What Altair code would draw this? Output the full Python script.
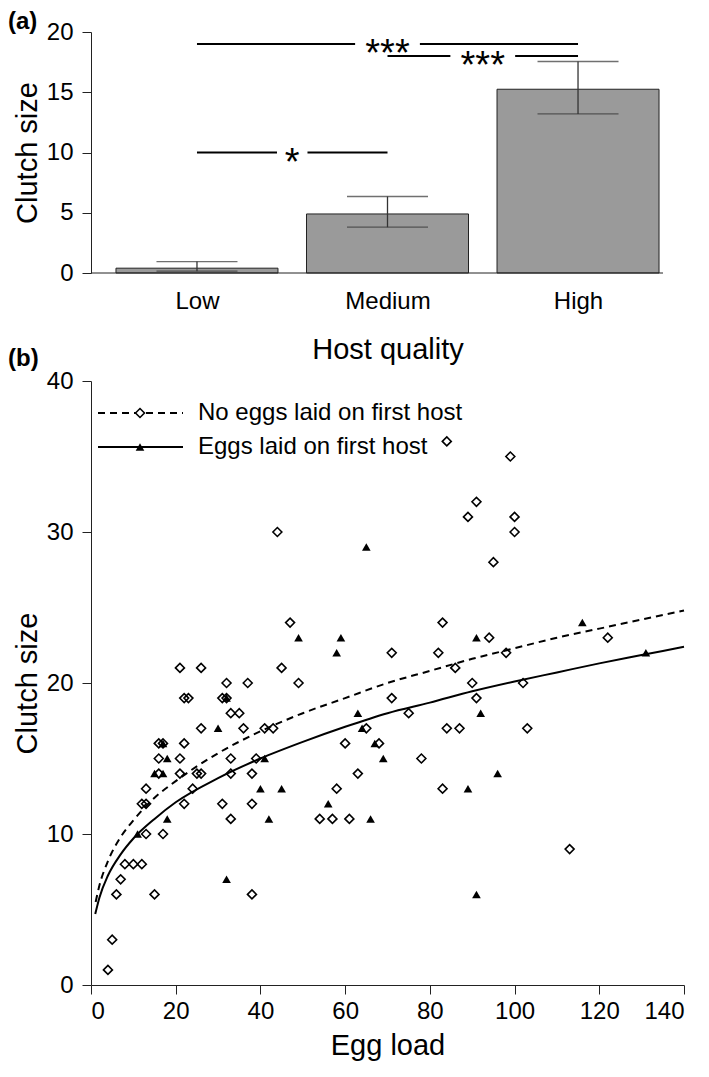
import json
import altair as alt
import pandas as pd

FONT = "Liberation Sans, Arial, Helvetica, sans-serif"

# ---------------- Panel (a) data ----------------
quality = ["Low", "Medium", "High"]
quality_pos = [0, 1, 2]
clutch_mean = [0.4, 4.9, 15.25]
clutch_lower = [0.15, 3.8, 13.2]
clutch_upper = [0.95, 6.35, 17.55]

sig_from = [0, 0, 1]
sig_to = [1, 2, 2]
sig_level = [10, 19, 18]
sig_label = ["*", "***", "***"]

# ---------------- Panel (b) data ----------------
no_eggs_x = [4, 5, 6, 15, 38, 7, 8, 10, 12, 13, 17, 12, 13, 13, 22, 31, 38, 33, 24,
             16, 21, 25, 26, 33, 38, 16, 21, 33, 39, 16, 17, 22, 26, 36, 41, 43, 33, 35,
             22, 23, 31, 32, 32, 37, 21, 26, 45, 44, 47, 49, 71, 82, 83, 84, 86, 71, 75,
             65, 84, 87, 60, 68, 78, 63, 58, 83, 54, 57, 61, 89, 91, 99, 100, 100, 95,
             94, 122, 98, 90, 102, 91, 103, 113]
no_eggs_y = [1, 3, 6, 6, 6, 7, 8, 8, 8, 10, 10, 12, 12, 13, 12, 12, 12, 11, 13,
             14, 14, 14, 14, 14, 14, 15, 15, 15, 15, 16, 16, 16, 17, 17, 17, 17, 18, 18,
             19, 19, 19, 19, 20, 20, 21, 21, 21, 30, 24, 20, 22, 22, 24, 36, 21, 19, 18,
             17, 17, 17, 16, 16, 15, 14, 13, 13, 11, 11, 11, 31, 32, 35, 31, 30, 28,
             23, 23, 22, 20, 20, 19, 17, 9]

eggs_x = [11, 15, 17, 18, 18, 17, 30, 32, 32, 40, 41, 42, 45, 49, 56, 58, 59, 63,
          64, 65, 66, 67, 69, 89, 91, 91, 92, 96, 116, 131]
eggs_y = [10, 14, 14, 15, 11, 16, 17, 19, 7, 13, 15, 11, 13, 23, 12, 22, 23, 18,
          17, 29, 11, 16, 15, 13, 23, 6, 18, 14, 24, 22]

# fitted curves
fit_no_eggs_x = [1.1, 2, 4, 7, 10, 15, 20, 30, 40, 50, 60, 70, 80, 90, 100, 110, 120, 130, 140]
fit_no_eggs_y = [5.5, 6.6, 8.2, 9.8, 10.9, 12.4, 13.5, 15.35, 16.8, 18.0, 19.0, 20.0,
                 20.8, 21.6, 22.3, 23.0, 23.6, 24.2, 24.8]
fit_eggs_x = [1, 2, 4, 7, 10, 15, 20, 30, 40, 50, 60, 70, 80, 90, 100, 110, 120, 130, 140]
fit_eggs_y = [4.7, 5.8, 7.25, 8.65, 9.7, 11.0, 12.1, 13.7, 15.0, 16.1, 17.1, 18.0,
              18.7, 19.45, 20.1, 20.7, 21.3, 21.85, 22.4]

legend_labels = ["No eggs laid on first host", "Eggs laid on first host"]

# ---------------- Panel (a) ----------------
W = 593
HA = 241
HB = 604
AX = "#222222"

label_expr = json.dumps(quality) + "[datum.value]"
xa_scale = alt.Scale(domain=[-0.53, 2.53], nice=False, zero=False)
xa_axis = alt.Axis(values=quality_pos, labelExpr=label_expr, ticks=False, tickSize=0,
                   domain=False, labelPadding=16, labelFontSize=24, titleFontSize=29,
                   titlePadding=22, grid=False, labelFont=FONT, titleFont=FONT,
                   titleFontWeight="normal", labelColor="black", titleColor="black")
ya_scale = alt.Scale(domain=[0, 20], nice=False)
ya_axis = alt.Axis(values=[0, 5, 10, 15, 20], tickSize=9, labelPadding=9, labelFontSize=24,
                   titleFontSize=29, titlePadding=4, grid=False, domainColor=AX, tickColor=AX,
                   labelFont=FONT, titleFont=FONT, titleFontWeight="normal",
                   labelColor="black", titleColor="black")


def xa(field):
    return alt.X(field, type="quantitative", scale=xa_scale, axis=xa_axis, title="Host quality")


def ya(field):
    return alt.Y(field, type="quantitative", scale=ya_scale, axis=ya_axis, title="Clutch size")


df_a = pd.DataFrame({"pos": quality_pos, "quality": quality, "mean": clutch_mean,
                     "lo": clutch_lower, "hi": clutch_upper})

bars = alt.Chart(df_a).mark_bar(size=162, orient="vertical", color="#9a9a9a",
                                stroke="#222222", strokeWidth=1).encode(
    x=xa("pos"), y=ya("mean"))

err_rule = alt.Chart(df_a).mark_rule(color="#333333", strokeWidth=1.3).encode(
    x=xa("pos"), y=ya("lo"), y2="hi")
err_hi = alt.Chart(df_a).mark_tick(orient="horizontal", size=81, thickness=1.3,
                                   color="#333333").encode(x=xa("pos"), y=ya("hi"))
err_lo = alt.Chart(df_a).mark_tick(orient="horizontal", size=81, thickness=1.3,
                                   color="#333333").encode(x=xa("pos"), y=ya("lo"))

baseline = alt.Chart(alt.Data(values=[{}])).mark_rule(color=AX, strokeWidth=1).encode(
    x=alt.value(0), x2=alt.value(572), y=alt.value(HA))

# significance brackets (line broken around the stars)
seg_rows = []
txt_rows = []
for f, t, lv, lab in zip(sig_from, sig_to, sig_level, sig_label):
    c = (f + t) / 2
    half_gap = 0.035 + 0.045 * len(lab)
    seg_rows.append({"x": f, "x2": c - half_gap, "y": lv})
    seg_rows.append({"x": c + half_gap, "x2": t, "y": lv})
    txt_rows.append({"cx": c, "y": lv, "label": lab})
df_seg = pd.DataFrame(seg_rows)
df_txt = pd.DataFrame(txt_rows)

sig_lines = alt.Chart(df_seg).mark_rule(color="black", strokeWidth=2).encode(
    x=xa("x"), x2="x2", y=ya("y"))
sig_text = alt.Chart(df_txt).mark_text(fontSize=38, baseline="alphabetic",
                                       dy=22, font=FONT, color="black").encode(
    x=xa("cx"), y=ya("y"), text="label:N")

tag_a = alt.Chart(alt.Data(values=[{}])).mark_text(
    text="(a)", align="left", baseline="top", fontSize=24, fontWeight="bold", font=FONT,
    color="black").encode(x=alt.value(-83), y=alt.value(-22))

panel_a = alt.layer(bars, err_rule, err_hi, err_lo, baseline, sig_lines, sig_text, tag_a).properties(
    width=W, height=HA)

# ---------------- Panel (b) ----------------
xb_scale = alt.Scale(domain=[0, 140], nice=False)
xb_axis = alt.Axis(values=list(range(0, 141, 20)), tickSize=9, labelPadding=5, labelFontSize=24,
                   titleFontSize=29, titlePadding=8, grid=False, domainColor=AX, tickColor=AX,
                   labelFont=FONT, titleFont=FONT, titleFontWeight="normal",
                   labelColor="black", titleColor="black")
yb_scale = alt.Scale(domain=[0, 40], nice=False)
yb_axis = alt.Axis(values=[0, 10, 20, 30, 40], tickSize=9, labelPadding=9, labelFontSize=24,
                   titleFontSize=29, titlePadding=4, grid=False, domainColor=AX, tickColor=AX,
                   labelFont=FONT, titleFont=FONT, titleFontWeight="normal",
                   labelColor="black", titleColor="black")


def xb(field):
    return alt.X(field, type="quantitative", scale=xb_scale, axis=xb_axis, title="Egg load")


def yb(field):
    return alt.Y(field, type="quantitative", scale=yb_scale, axis=yb_axis, title="Clutch size")


df_no = pd.DataFrame({"egg_load": no_eggs_x, "clutch": no_eggs_y})
df_yes = pd.DataFrame({"egg_load": eggs_x, "clutch": eggs_y})
df_fit_no = pd.DataFrame({"egg_load": fit_no_eggs_x, "clutch": fit_no_eggs_y})
df_fit_yes = pd.DataFrame({"egg_load": fit_eggs_x, "clutch": fit_eggs_y})

pts_no = alt.Chart(df_no).mark_point(shape="diamond", filled=False, stroke="black",
                                     strokeWidth=1.6, size=80, opacity=1).encode(
    x=xb("egg_load"), y=yb("clutch"))
pts_yes = alt.Chart(df_yes).mark_point(shape="triangle-up", filled=True, color="black",
                                       size=75, opacity=1).encode(
    x=xb("egg_load"), y=yb("clutch"))

line_no = alt.Chart(df_fit_no).mark_line(color="black", strokeWidth=2, strokeDash=[7, 5],
                                         interpolate="monotone").encode(
    x=xb("egg_load"), y=yb("clutch"))
line_yes = alt.Chart(df_fit_yes).mark_line(color="black", strokeWidth=2,
                                           interpolate="monotone").encode(
    x=xb("egg_load"), y=yb("clutch"))

one = alt.Data(values=[{}])
leg_rule1 = alt.Chart(one).mark_rule(color="black", strokeWidth=2, strokeDash=[7, 5]).encode(
    x=alt.value(7), x2=alt.value(92), y=alt.value(32))
leg_pt1 = alt.Chart(one).mark_point(shape="diamond", filled=True, fill="white", stroke="black",
                                    strokeWidth=1.6, size=80, opacity=1).encode(
    x=alt.value(49), y=alt.value(32))
leg_txt1 = alt.Chart(one).mark_text(text=legend_labels[0], align="left", baseline="middle",
                                    fontSize=24, font=FONT, color="black").encode(
    x=alt.value(107), y=alt.value(32))
leg_rule2 = alt.Chart(one).mark_rule(color="black", strokeWidth=2).encode(
    x=alt.value(7), x2=alt.value(92), y=alt.value(66))
leg_pt2 = alt.Chart(one).mark_point(shape="triangle-up", filled=True, color="black",
                                    size=75, opacity=1).encode(
    x=alt.value(49), y=alt.value(66))
leg_txt2 = alt.Chart(one).mark_text(text=legend_labels[1], align="left", baseline="middle",
                                    fontSize=24, font=FONT, color="black").encode(
    x=alt.value(107), y=alt.value(66))

tag_b = alt.Chart(one).mark_text(
    text="(b)", align="left", baseline="top", fontSize=24, fontWeight="bold", font=FONT,
    color="black").encode(x=alt.value(-83), y=alt.value(-34))

panel_b = alt.layer(pts_no, pts_yes, line_no, line_yes, leg_rule1, leg_pt1, leg_txt1,
                    leg_rule2, leg_pt2, leg_txt2, tag_b).properties(width=W, height=HB)

chart = alt.vconcat(panel_a, panel_b, spacing=108, bounds="flush").properties(
    padding={"left": 0, "top": 2, "right": 5, "bottom": 5}
).configure(font=FONT).configure_view(stroke=None, strokeWidth=0)

chart.save("out.html", embed_options={"renderer": "svg", "actions": False})
